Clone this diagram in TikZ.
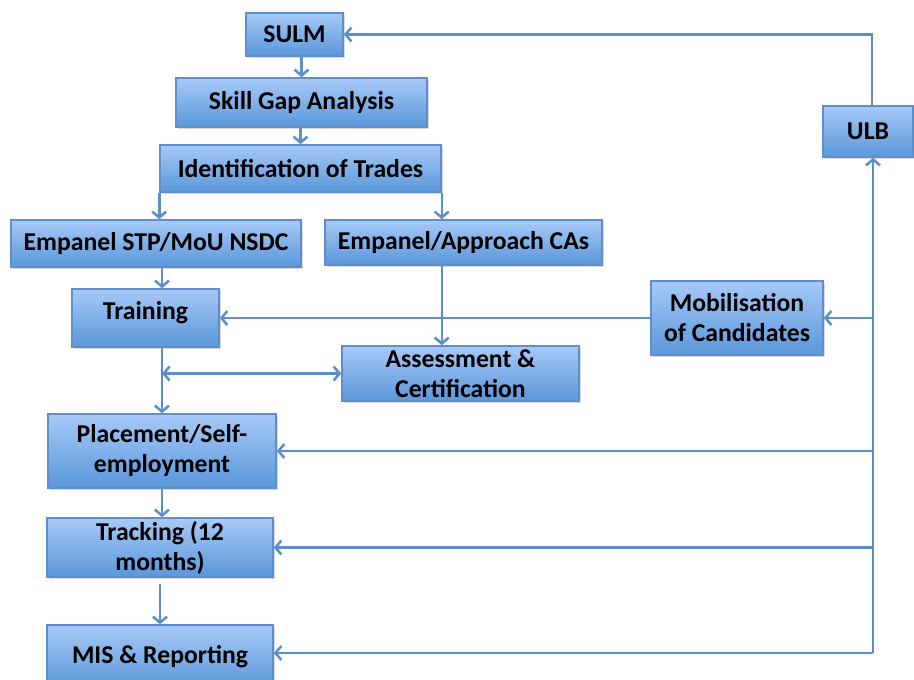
\documentclass[tikz,border=0pt]{standalone}
\usepackage{fontspec}
\setmainfont{Carlito}
\usepackage{tikz}
\usetikzlibrary{arrows.meta,shadows}
\definecolor{boxtop}{HTML}{A7C9F7}
\definecolor{boxbot}{HTML}{5A97DA}
\definecolor{boxline}{HTML}{5E8FCB}
\definecolor{linkcol}{HTML}{5B8FCC}

\begin{document}
\begin{tikzpicture}[x=1pt,y=-1pt,
box/.style = {shape=rectangle, draw=boxline, line width=1.5pt,
	top color=boxtop, bottom color=boxbot, inner sep=0pt,
	align=center, text=black,
	font=\fontsize{25.7}{30}\selectfont\bfseries,
	drop shadow={shadow xshift=1.5pt, shadow yshift=-2pt, opacity=0.3}},
link/.style = {draw=linkcol, line width=2.5pt,
	-{Straight Barb[length=6pt,width=14pt]}},
link2/.style = {draw=linkcol, line width=2.5pt,
	{Straight Barb[length=6pt,width=14pt]}-{Straight Barb[length=6pt,width=14pt]}}]
	\useasboundingbox (0,0) rectangle (914,680);
	\node[box, minimum width=97, minimum height=43] (sulm) at (294.5,34.5) {SULM};
	\node[box, minimum width=251, minimum height=49] (skill) at (301.5,102.5) {Skill Gap Analysis};
	\node[box, minimum width=281, minimum height=47] (trades) at (300.5,168.5) {Identification of Trades};
	\node[box, minimum width=290, minimum height=47] (stp) at (156,243.5) {Empanel STP/MoU NSDC};
	\node[box, minimum width=277, minimum height=45] (cas) at (463.5,242.5) {Empanel/Approach CAs};
	\node[box, minimum width=90, minimum height=51] (ulb) at (868,131.5) {ULB};
	\node[box, minimum width=147, minimum height=58, text height=17.5pt, text depth=15pt] (training) at (145.5,318) {Training};
	\node[box, minimum width=237, minimum height=55] (assess) at (460.5,373.5) {Assessment \&\\Certification};
	\node[box, minimum width=172, minimum height=74] (mobil) at (737,318) {Mobilisation\\of Candidates};
	\node[box, minimum width=228, minimum height=74] (place) at (162,451) {Placement/Self-\\employment};
	\node[box, minimum width=226, minimum height=59] (track) at (160,547.5) {Tracking (12\\months)};
	\node[box, minimum width=226, minimum height=64] (mis) at (160,657) {MIS \& Reporting};
	\coordinate (busbot) at (873,653);

	\draw[link] ([xshift=4pt]ulb.north) |- (sulm.east);
	\draw[link] (busbot) -- (busbot |- ulb.south);
	\draw[link] (busbot |- mobil.east) -- (mobil.east);
	\draw[link] (busbot |- place.east) -- (place.east);
	\draw[link] (busbot |- track.east) -- (track.east);
	\draw[link] (busbot) -- (busbot -| mis.east);
	\draw[link] (sulm.south -| skill.north) -- (skill.north);
	\draw[link] (skill.south -| trades.north) -- (trades.north);
	\draw[link] (trades.south west) -- (trades.south west |- stp.north);
	\draw[link] (trades.south east) -- (trades.south east |- cas.north);
	\draw[link] (stp.south -| place.north) -- (place.north |- training.north);
	\draw[link] (cas.south -| trades.south east) -- (trades.south east |- assess.north);
	\draw[link] (mobil.west) -- (training.east);
	\draw[link] (training.south -| place.north) -- (place.north);
	\draw[link2] (place.north |- assess.west) -- (assess.west);
	\draw[link] (place.south) -- (place.south |- track.north);
	\draw[link, shorten <=6pt] (track.south) -- (mis.north);
\end{tikzpicture}
\end{document}
